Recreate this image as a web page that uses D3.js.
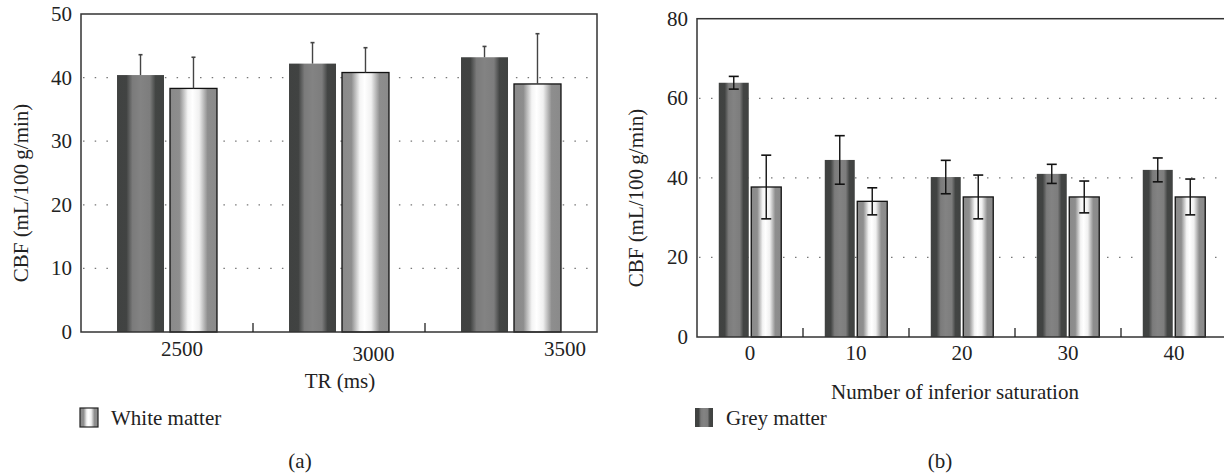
<!DOCTYPE html>
<html>
<head>
<meta charset="utf-8">
<script src="https://cdn.jsdelivr.net/npm/d3@7"></script>
<style>
  body { margin: 0; background: #fff; }
</style>
</head>
<body>
<div id="chart"></div>
<script>
// Panel (a): CBF by TR
const trCategories = ["2500", "3000", "3500"];
const trGrey = [40.4, 42.2, 43.2];
const trGreyErr = [3.2, 3.3, 1.7];
const trWhite = [38.3, 40.8, 39.0];
const trWhiteErr = [4.9, 3.9, 7.9];
const trTicks = [0, 10, 20, 30, 40, 50];

// Panel (b): CBF by number of inferior saturation
const satCategories = ["0", "10", "20", "30", "40"];
const satGrey = [63.9, 44.5, 40.2, 41.0, 42.0];
const satGreyErr = [1.6, 6.1, 4.2, 2.4, 3.0];
const satWhite = [37.7, 34.1, 35.2, 35.2, 35.2];
const satWhiteErr = [8.0, 3.4, 5.5, 4.0, 4.5];
const satTicks = [0, 20, 40, 60, 80];

const series = ["grey", "white"];
const FONT = "'Liberation Serif', 'Times New Roman', 'DejaVu Serif', serif";

const svg = d3.select("#chart").append("svg")
    .attr("width", 1224)
    .attr("height", 473)
    .style("font-family", FONT);

// gradients for the shaded bars
const defs = svg.append("defs");
function addGradient(id, stops) {
    const g = defs.append("linearGradient")
        .attr("id", id)
        .attr("x1", "0%").attr("x2", "100%")
        .attr("y1", "0%").attr("y2", "0%");
    stops.forEach(s => g.append("stop").attr("offset", s[0]).attr("stop-color", s[1]));
}
addGradient("greyGrad", [["0%", "#404241"], ["20%", "#414342"], ["33%", "#7b7b7b"], ["50%", "#838383"], ["70%", "#7d7d7d"], ["82%", "#434544"], ["100%", "#404241"]]);
addGradient("whiteGrad", [["0%", "#8a8a8a"], ["20%", "#8e8e8e"], ["38%", "#f4f4f4"], ["48%", "#ffffff"], ["62%", "#f0f0f0"], ["80%", "#8e8e8e"], ["100%", "#8a8a8a"]]);

function label(g) {
    return g.append("text")
        .attr("font-family", FONT)
        .attr("font-size", 21)
        .attr("fill", "#222");
}

function drawPanel(opt) {
    const g = svg.append("g");
    const x = d3.scaleBand().domain(opt.categories).range([opt.left, opt.right]);
    const sub = d3.scaleBand().domain(series).range([0, x.bandwidth()])
        .paddingInner(opt.inner).paddingOuter(opt.outer);
    const y = d3.scaleLinear().domain([0, opt.max]).range([opt.bottom, opt.top]);

    // dotted grid lines
    g.selectAll(".grid")
        .data(opt.ticks.filter(t => t > 0 && t < opt.max))
        .enter()
        .append("line")
        .attr("x1", opt.left + 2)
        .attr("x2", opt.right - 4)
        .attr("y1", d => y(d))
        .attr("y2", d => y(d))
        .attr("stroke", "#777")
        .attr("stroke-width", 1.3)
        .attr("stroke-dasharray", "1.5," + opt.dotGap);

    // bars
    const rows = opt.categories.map((c, i) => [
        { cat: c, key: "grey", v: opt.grey[i], e: opt.greyErr[i] },
        { cat: c, key: "white", v: opt.white[i], e: opt.whiteErr[i] }
    ]).flat();

    g.selectAll(".bar")
        .data(rows)
        .enter()
        .append("rect")
        .attr("x", d => x(d.cat) + sub(d.key))
        .attr("y", d => y(d.v))
        .attr("width", sub.bandwidth())
        .attr("height", d => y(0) - y(d.v))
        .attr("fill", d => d.key === "grey" ? "url(#greyGrad)" : "url(#whiteGrad)")
        .attr("stroke", d => d.key === "grey" ? "none" : "#111")
        .attr("stroke-width", 1.3);

    // error bars
    const cx = d => x(d.cat) + sub(d.key) + sub.bandwidth() / 2;
    const lowVal = d => opt.upperOnly ? d.v : d.v - d.e;
    g.selectAll(".err")
        .data(rows)
        .enter()
        .append("line")
        .attr("x1", cx).attr("x2", cx)
        .attr("y1", d => y(d.v + d.e))
        .attr("y2", d => y(lowVal(d)))
        .attr("stroke", opt.errColor)
        .attr("stroke-width", 1.4);
    g.selectAll(".capTop")
        .data(rows)
        .enter()
        .append("line")
        .attr("x1", d => cx(d) - opt.cap).attr("x2", d => cx(d) + opt.cap)
        .attr("y1", d => y(d.v + d.e)).attr("y2", d => y(d.v + d.e))
        .attr("stroke", opt.errColor)
        .attr("stroke-width", 1.6);
    if (!opt.upperOnly) {
        g.selectAll(".capBot")
            .data(rows)
            .enter()
            .append("line")
            .attr("x1", d => cx(d) - opt.cap).attr("x2", d => cx(d) + opt.cap)
            .attr("y1", d => y(d.v - d.e)).attr("y2", d => y(d.v - d.e))
            .attr("stroke", opt.errColor)
            .attr("stroke-width", 1.6);
    }

    // frame
    g.append("rect")
        .attr("x", opt.left).attr("y", opt.top)
        .attr("width", opt.right - opt.left)
        .attr("height", opt.bottom - opt.top)
        .attr("fill", "none")
        .attr("stroke", "#333")
        .attr("stroke-width", 1.5);

    // x ticks at the category boundaries, pointing up
    g.selectAll(".xtick")
        .data(opt.categories.slice(1))
        .enter()
        .append("line")
        .attr("x1", d => x(d)).attr("x2", d => x(d))
        .attr("y1", opt.bottom).attr("y2", opt.bottom - 9)
        .attr("stroke", "#222")
        .attr("stroke-width", 1.3);

    // y tick labels
    opt.ticks.forEach(t => {
        label(g).attr("x", opt.left - 9)
            .attr("y", y(t) + 7)
            .attr("text-anchor", "end")
            .text(t);
    });

    // x tick labels
    const lx = opt.labelScale || (d => x(d) + x.bandwidth() / 2);
    opt.categories.forEach((c, i) => {
        label(g).attr("x", lx(c))
            .attr("y", opt.labelY + (opt.labelDy ? opt.labelDy[i] : 0))
            .attr("text-anchor", "middle")
            .text(c);
    });

    // axis titles
    label(g)
        .attr("transform", `translate(${opt.yTitleX},${opt.yTitleY}) rotate(-90)`)
        .attr("text-anchor", "middle")
        .text("CBF (mL/100\u2009g/min)");
    label(g)
        .attr("x", opt.xTitleX)
        .attr("y", opt.xTitleY)
        .attr("text-anchor", "middle")
        .text(opt.xTitle);

    // legend
    g.append("rect")
        .attr("x", opt.legendX).attr("y", 408)
        .attr("width", 18).attr("height", 19)
        .attr("fill", opt.legendKey === "grey" ? "url(#greyGrad)" : "url(#whiteGrad)")
        .attr("stroke", opt.legendKey === "grey" ? "none" : "#222")
        .attr("stroke-width", 1.2);
    label(g)
        .attr("x", opt.legendX + 31)
        .attr("y", 425)
        .text(opt.legendText);

    label(g)
        .attr("x", opt.panelX)
        .attr("y", 468)
        .attr("text-anchor", "middle")
        .text(opt.panel);
}

drawPanel({
    categories: trCategories, grey: trGrey, greyErr: trGreyErr,
    white: trWhite, whiteErr: trWhiteErr, ticks: trTicks, max: 50,
    left: 81, right: 597, top: 14, bottom: 332,
    inner: 0.113, outer: 0.68, dotGap: 10.2, cap: 2, upperOnly: true, errColor: "#444",
    labelScale: d3.scalePoint().domain(trCategories).range([182, 565]),
    labelY: 356, labelDy: [0, 5, 0],
    yTitleX: 28, yTitleY: 193, xTitle: "TR (ms)", xTitleX: 340, xTitleY: 388,
    legendX: 80, legendKey: "white", legendText: "White matter", panelX: 300, panel: "(a)"
});

drawPanel({
    categories: satCategories, grey: satGrey, greyErr: satGreyErr,
    white: satWhite, whiteErr: satWhiteErr, ticks: satTicks, max: 80,
    left: 697, right: 1227, top: 18.7, bottom: 337,
    inner: 0.077, outer: 0.67, dotGap: 10.5, cap: 5, upperOnly: false, errColor: "#111",
    labelY: 360,
    yTitleX: 643, yTitleY: 198, xTitle: "Number of inferior saturation", xTitleX: 955, xTitleY: 399,
    legendX: 695, legendKey: "grey", legendText: "Grey matter", panelX: 940, panel: "(b)"
});
</script>
</body>
</html>
